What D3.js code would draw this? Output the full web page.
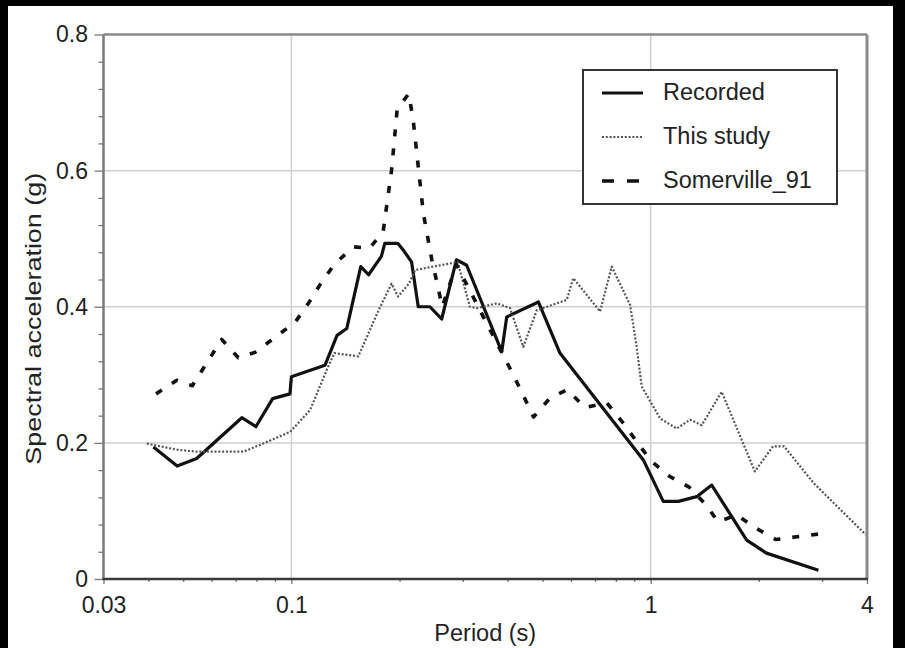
<!DOCTYPE html>
<html>
<head>
<meta charset="utf-8">
<script src="https://cdn.jsdelivr.net/npm/d3@7"></script>
<style>
  body { margin: 0; background: #000; }
  svg { display: block; }
  .tick text { font-family: "Liberation Sans", Arial, Helvetica, sans-serif; fill: #222; }
</style>
</head>
<body>
<svg id="chart" width="905" height="648"></svg>
<script>
//============================================================
// Data
//------------------------------------------------------------

var recordedT = [0.0413, 0.0481, 0.0545, 0.0728, 0.0797, 0.0887, 0.0991, 0.100, 0.124, 0.134, 0.1426, 0.156,
                 0.164, 0.178, 0.182, 0.198, 0.205, 0.216, 0.2255, 0.243, 0.262, 0.288, 0.3075, 0.385, 0.3975,
                 0.487, 0.559, 0.954, 1.084, 1.194, 1.343, 1.479, 1.85, 2.10, 2.93];
var recordedSa = [0.194, 0.166, 0.177, 0.237, 0.224, 0.265, 0.272, 0.297, 0.314, 0.358, 0.368, 0.459,
                  0.447, 0.474, 0.493, 0.493, 0.483, 0.466, 0.400, 0.400, 0.382, 0.469, 0.461, 0.334, 0.385,
                  0.407, 0.332, 0.175, 0.114, 0.114, 0.121, 0.138, 0.057, 0.038, 0.013];

var studyT = [0.0396, 0.0481, 0.0545, 0.0735, 0.0818, 0.0991, 0.1127, 0.1254, 0.1317, 0.1535, 0.176, 0.190,
              0.198, 0.2125, 0.221, 0.279, 0.29, 0.314, 0.329, 0.373, 0.406, 0.442, 0.482, 0.584, 0.609,
              0.723, 0.779, 0.876, 0.914, 0.944, 1.062, 1.181, 1.287, 1.387, 1.576, 1.95, 2.19, 2.35, 2.84, 3.97];
var studySa = [0.199, 0.190, 0.187, 0.187, 0.197, 0.216, 0.248, 0.307, 0.332, 0.327, 0.398, 0.434,
               0.415, 0.434, 0.454, 0.464, 0.466, 0.400, 0.398, 0.405, 0.398, 0.341, 0.395, 0.410, 0.442,
               0.393, 0.459, 0.403, 0.341, 0.283, 0.236, 0.221, 0.234, 0.226, 0.275, 0.158, 0.195, 0.195, 0.141, 0.065];

var somervilleT = [0.042, 0.048, 0.053, 0.064, 0.0712, 0.0792, 0.090, 0.1024, 0.1115, 0.1207, 0.132, 0.149,
                   0.165, 0.180, 0.19, 0.197, 0.212, 0.218, 0.233, 0.246, 0.255, 0.263, 0.288, 0.41, 0.44,
                   0.472, 0.525, 0.586, 0.656, 0.755, 0.833, 1.0, 1.127, 1.28, 1.425, 1.54, 1.736, 1.965,
                   2.23, 2.63, 3.15];
var somervilleSa = [0.272, 0.292, 0.284, 0.352, 0.325, 0.333, 0.355, 0.377, 0.405, 0.434, 0.463, 0.488,
                    0.486, 0.510, 0.600, 0.690, 0.713, 0.677, 0.537, 0.469, 0.432, 0.400, 0.462, 0.305, 0.272,
                    0.238, 0.266, 0.278, 0.252, 0.259, 0.231, 0.174, 0.151, 0.135, 0.109, 0.084, 0.094, 0.0745,
                    0.058, 0.063, 0.068];

var xTicks = [0.03, 0.1, 1, 4];
var xMinorTicks = [0.04, 0.05, 0.06, 0.07, 0.08, 0.09, 0.2, 0.3, 0.4, 0.5, 0.6, 0.7, 0.8, 0.9, 2, 3];
var yTicks = [0, 0.2, 0.4, 0.6, 0.8];
var yMinorTicks = [0.04, 0.08, 0.12, 0.16, 0.24, 0.28, 0.32, 0.36, 0.44, 0.48, 0.52, 0.56, 0.64, 0.68, 0.72, 0.76];
var xGrid = [0.1, 1];
var yGrid = [0.2, 0.4, 0.6];
var seriesNames = ['Recorded', 'This study', 'Somerville_91'];

//============================================================
// Layout
//------------------------------------------------------------

var width = 905,
    height = 648,
    margin = {top: 34.5, right: 38, bottom: 69, left: 103.5},
    font = '"Liberation Sans", Arial, Helvetica, sans-serif';

var svg = d3.select('#chart');

// black scan border, white page
svg.append('rect').attr('width', width).attr('height', height).attr('fill', '#000');
svg.append('rect').attr('x', 8).attr('y', 6).attr('width', 885).attr('height', height - 6).attr('fill', '#fff');

var x = d3.scaleLog()
    .domain([0.03, 4])
    .range([margin.left, width - margin.right]);

var y = d3.scaleLinear()
    .domain([0, 0.8])
    .range([height - margin.bottom, margin.top]);

var styles = {
    'Recorded': {stroke: '#111', width: 3.2, dash: null, legendDash: null},
    'This study': {stroke: '#555', width: 2.2, dash: '2,1.8', legendDash: '2,1.8'},
    'Somerville_91': {stroke: '#111', width: 3.6, dash: '7,12', legendDash: '12,13'}
};

var series = [
    {key: 'Recorded', t: recordedT, sa: recordedSa},
    {key: 'This study', t: studyT, sa: studySa},
    {key: 'Somerville_91', t: somervilleT, sa: somervilleSa}
];

//------------------------------------------------------------
// Grid

var grid = svg.append('g').attr('class', 'grid');

grid.selectAll('line.gx').data(xGrid).enter().append('line')
    .attr('class', 'gx')
    .attr('x1', function (d) { return x(d) })
    .attr('x2', function (d) { return x(d) })
    .attr('y1', y(0))
    .attr('y2', y(0.8))
    .attr('stroke', '#cfcfcf')
    .attr('stroke-width', 1.5);

grid.selectAll('line.gy').data(yGrid).enter().append('line')
    .attr('class', 'gy')
    .attr('x1', x(0.03))
    .attr('x2', x(4))
    .attr('y1', function (d) { return y(d) })
    .attr('y2', function (d) { return y(d) })
    .attr('stroke', '#cfcfcf')
    .attr('stroke-width', 1.5);

//------------------------------------------------------------
// Axes

var xAxis = svg.append('g')
    .attr('transform', 'translate(0,' + y(0) + ')')
    .call(d3.axisBottom(x).tickValues(xTicks).tickFormat(d3.format('~g')).tickSize(5).tickPadding(13));

var xMinor = svg.append('g')
    .attr('transform', 'translate(0,' + y(0) + ')')
    .call(d3.axisBottom(x).tickValues(xMinorTicks).tickFormat('').tickSize(3));

var yAxis = svg.append('g')
    .attr('transform', 'translate(' + x(0.03) + ',0)')
    .call(d3.axisLeft(y).tickValues(yTicks).tickFormat(d3.format('~g')).tickSize(9).tickPadding(6.5));

var yMinor = svg.append('g')
    .attr('transform', 'translate(' + x(0.03) + ',0)')
    .call(d3.axisLeft(y).tickValues(yMinorTicks).tickFormat('').tickSize(5));

[xAxis, xMinor, yAxis, yMinor].forEach(function (g) {
    g.select('.domain').remove();
    g.selectAll('.tick line').attr('stroke', '#777').attr('stroke-width', 1.3);
    g.selectAll('.tick text').style('font-size', '23px').style('font-family', font);
});

//------------------------------------------------------------
// Series

var line = d3.line()
    .x(function (d) { return x(d[0]) })
    .y(function (d) { return y(d[1]) });

svg.selectAll('path.series').data(series).enter().append('path')
    .attr('class', 'series')
    .attr('d', function (s) { return line(d3.zip(s.t, s.sa)) })
    .attr('fill', 'none')
    .attr('stroke', function (s) { return styles[s.key].stroke })
    .attr('stroke-width', function (s) { return styles[s.key].width })
    .attr('stroke-dasharray', function (s) { return styles[s.key].dash })
    .attr('stroke-linejoin', 'round');

//------------------------------------------------------------
// Frame

var frame = svg.append('g').attr('class', 'frame');
frame.append('line').attr('x1', x(0.03)).attr('x2', x(4)).attr('y1', y(0.8)).attr('y2', y(0.8))
    .attr('stroke', '#8a8a8a').attr('stroke-width', 2.5);
frame.append('line').attr('x1', x(0.03)).attr('x2', x(0.03)).attr('y1', y(0.8)).attr('y2', y(0))
    .attr('stroke', '#7a7a7a').attr('stroke-width', 2.5);
frame.append('line').attr('x1', x(4)).attr('x2', x(4)).attr('y1', y(0.8)).attr('y2', y(0))
    .attr('stroke', '#8a8a8a').attr('stroke-width', 3);
frame.append('line').attr('x1', x(0.03) - 1).attr('x2', x(4) + 1).attr('y1', y(0)).attr('y2', y(0))
    .attr('stroke', '#3a3a3a').attr('stroke-width', 2.5);

//------------------------------------------------------------
// Axis titles

svg.append('text')
    .attr('x', (x(0.03) + x(4)) / 2)
    .attr('y', 641)
    .attr('text-anchor', 'middle')
    .style('font-family', font)
    .style('font-size', '23.5px')
    .attr('fill', '#222')
    .text('Period (s)');

svg.append('text')
    .attr('transform', 'translate(41,' + ((y(0) + y(0.8)) / 2 + 12) + ') rotate(-90)')
    .attr('text-anchor', 'middle')
    .attr('textLength', 292)
    .attr('lengthAdjust', 'spacingAndGlyphs')
    .style('font-family', font)
    .style('font-size', '22px')
    .attr('fill', '#222')
    .text('Spectral acceleration (g)');

//------------------------------------------------------------
// Legend

var legend = svg.append('g').attr('class', 'legend');

legend.append('rect')
    .attr('x', 583).attr('y', 70)
    .attr('width', 254).attr('height', 134)
    .attr('fill', '#fff')
    .attr('stroke', '#333')
    .attr('stroke-width', 2);

var items = legend.selectAll('g.item').data(seriesNames).enter().append('g')
    .attr('class', 'item')
    .attr('transform', function (d, i) { return 'translate(0,' + (93 + i * 44) + ')' });

items.append('line')
    .attr('x1', 602).attr('x2', 643)
    .attr('stroke', function (d) { return styles[d].stroke })
    .attr('stroke-width', function (d) { return styles[d].width })
    .attr('stroke-dasharray', function (d) { return styles[d].legendDash });

items.append('text')
    .attr('x', 663)
    .attr('dy', '0.3em')
    .style('font-family', font)
    .style('font-size', '23.5px')
    .attr('fill', '#222')
    .text(function (d) { return d });
</script>
</body>
</html>
